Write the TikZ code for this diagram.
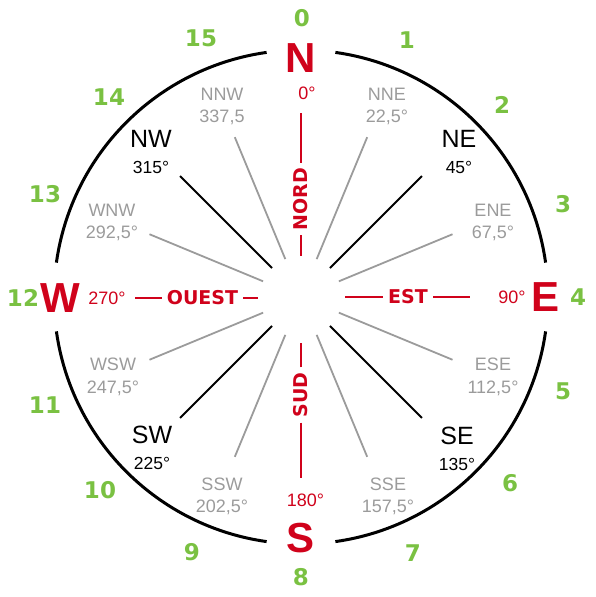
\documentclass[tikz,border=0pt]{standalone}
\usepackage{fontspec}
\setmainfont{Liberation Sans}
\newfontfamily\dejavu{DejaVu Sans}
\usetikzlibrary{positioning}

\definecolor{rosered}{RGB}{208,2,27}
\definecolor{leafgreen}{RGB}{122,193,66}
\definecolor{softgray}{RGB}{155,155,155}

\tikzset{
  rim/.style={line width=3pt},
  mainspoke/.style={line width=1.8pt,black},
  minorspoke/.style={line width=1.8pt,softgray},
  redline/.style={line width=1.6pt,rosered},
  cardinal/.style={text=rosered,font=\fontsize{42}{42}\selectfont\bfseries,inner sep=0pt},
  num/.style={text=leafgreen,font=\dejavu\bfseries\fontsize{23}{23}\selectfont},
  word/.style={text=rosered,font=\dejavu\bfseries\fontsize{19}{19}\selectfont,inner sep=5pt},
  reddeg/.style={text=rosered,font=\fontsize{18}{18}\selectfont},
  mainlbl/.style={font=\fontsize{25}{25}\selectfont,anchor=base},
  maindeg/.style={font=\fontsize{17.5}{17.5}\selectfont,anchor=base},
  minorlbl/.style={text=softgray,font=\fontsize{18}{18}\selectfont,anchor=base},
}

\begin{document}
\begin{tikzpicture}[x=1pt,y=1pt]
\useasboundingbox (-301,-300) rectangle (294,297);

% outer ring, open at the four cardinal points
\foreach \a in {0,90,180,270} {
  \draw[rim] (\a+8:247) arc[start angle=\a+8,end angle=\a+82,radius=247];
}

% spokes (k = sector index, 22.5 degrees each)
\foreach \k in {2,6,10,14} {
  \coordinate (in\k) at ({90-\k*22.5}:41);
  \coordinate (out\k) at ({90-\k*22.5}:171);
  \draw[mainspoke] (in\k) -- (out\k);
}
\foreach \k/\r in {1/173,3/164,5/164,7/173,9/173,11/164,13/164,15/173} {
  \coordinate (in\k) at ({90-\k*22.5}:41);
  \coordinate (out\k) at ({90-\k*22.5}:\r);
  \draw[minorspoke] (in\k) -- (out\k);
}

% green sector numbers
\foreach \k/\x/\y in {0/1/279, 1/106/257, 2/201/192, 3/262/93, 4/277/0, 5/262/-94,
    6/209/-186, 7/112/-256, 8/0/-280, 9/-109/-255, 10/-201/-193, 11/-256/-108,
    12/-278/-1, 13/-256/103, 14/-192/200, 15/-100/259} {
  \node[num] (n\k) at (\x,\y) {\k};
}

% cardinal points
\node[cardinal] (N) at (0,239) {N};
\node[cardinal] (E) at (245,0) {E};
\node[cardinal] (S) at (0,-241) {S};
\node[cardinal] (W) at (-241,-1) {W};

\node[reddeg] (deg0) at (6,204) {0°};
\node[reddeg] (deg90) at (211,0) {90°};
\node[reddeg] (deg180) at (4.5,-203) {180°};
\node[reddeg] (deg270) at (-194,-1) {270°};

% axis words with their dashes
\node[word,rotate=90] (nord) at (0,98) {NORD};
\node[word,rotate=90] (sud) at (0,-98) {SUD};
\node[word] (est) at (107,0) {EST};
\node[word] (ouest) at (-98.5,-1) {OUEST};
\coordinate (nord-out) at (0,184);
\coordinate (nord-in) at (0,41);
\coordinate (sud-out) at (0,-181);
\coordinate (sud-in) at (0,-46);
\coordinate (est-out) at (169,0);
\coordinate (est-in) at (44,0);
\coordinate (ouest-out) at (-166,-1);
\coordinate (ouest-in) at (-43,-1);
\foreach \w in {nord,sud,est,ouest} {
  \draw[redline] (\w) -- (\w-out);
  \draw[redline] (\w) -- (\w-in);
}

% intercardinal labels
\node[mainlbl] (ne) at (158,149) {NE};
\node[maindeg] (ne-deg) at ([yshift=-26pt]ne.base) {45°};
\node[mainlbl] (se) at (156,-147) {SE};
\node[maindeg] (se-deg) at ([yshift=-26pt]se.base) {135°};
\node[mainlbl] (sw) at (-149,-146) {SW};
\node[maindeg] (sw-deg) at ([yshift=-26pt]sw.base) {225°};
\node[mainlbl] (nw) at (-150,149) {NW};
\node[maindeg] (nw-deg) at ([yshift=-26pt]nw.base) {315°};

% secondary labels
\foreach \nm/\dg/\x/\y in {NNE/{22,5°}/86/196, ENE/{67,5°}/192/80, ESE/{112,5°}/192/-74,
    SSE/{157,5°}/87/-193, SSW/{202,5°}/-79/-193, WSW/{247,5°}/-188/-74,
    WNW/{292,5°}/-189/80, NNW/{337,5}/-79/196} {
  \node[minorlbl] (\nm) at (\x,\y) {\nm};
  \node[minorlbl] (\nm-deg) at ([yshift=-22pt]\nm.base) {\dg};
}
\end{tikzpicture}
\end{document}
